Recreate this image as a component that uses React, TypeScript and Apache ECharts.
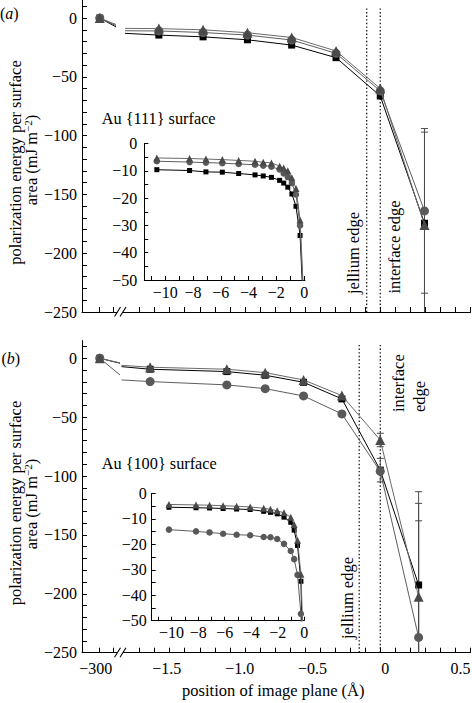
import React, { useEffect, useRef } from 'react';
import * as echarts from 'echarts';

const FONT = '"Liberation Serif", "Times New Roman", Times, serif';
const MINUS = '\u2212';

// ---------------- Panel (a): Au {111} ----------------
// image-plane positions (Å) and polarization energies (mJ m^-2)
const xA = [-10.598, -8.243, -7.066, -5.888, -4.71, -3.533, -2.944, -2.355, -1.766, -1.472, -1.178, -0.883, -0.589, -0.294, 0, 0.294];
const sqA = [-9.6, -9.9, -10.4, -10.5, -11.0, -11.5, -11.9, -12.4, -13.5, -14.5, -16.0, -18.5, -23.0, -33.7, -66.3, -174.5];
const cirA = [-6.5, -6.8, -7.0, -7.2, -7.5, -7.8, -8.1, -8.5, -9.5, -11.0, -12.3, -14.5, -18.7, -30.0, -62.0, -164.0];
const triA = [-5.3, -5.5, -5.7, -5.9, -6.2, -6.5, -6.9, -7.1, -8.3, -9.0, -10.0, -12.5, -16.5, -28.0, -60.0, -176.0];
const farA = { sq: 0, cir: 0, tri: 0 }; // values at −300 Å
const stubA = { sq: [-7.5, -13.0], cir: [-6.5, -10.8], tri: [-5.5, -8.8] }; // line ends either side of the axis break
const errA = [
  [0.294, -234, -94],
  [0.294, -252, -97],
];
const edgesA = { jellium: -0.09, interface: 0, top: 8.2 };

// ---------------- Panel (b): Au {100} ----------------
const xB = [-10.2, -8.16, -7.14, -6.12, -5.1, -4.08, -3.06, -2.55, -2.04, -1.53, -1.02, -0.765, -0.51, -0.255, 0, 0.255];
const sqB = [-5.4, -5.6, -5.7, -5.9, -6.1, -6.3, -7.0, -7.4, -8.0, -9.3, -11.3, -14.4, -20.4, -34.5, -95.0, -192.5];
const cirB = [-14.2, -14.9, -15.3, -15.8, -16.2, -16.4, -17.1, -17.2, -17.9, -19.8, -22.6, -25.8, -32.0, -47.3, -96.0, -237.0];
const triB = [-4.3, -4.5, -4.6, -4.8, -5.0, -5.3, -5.8, -6.2, -6.8, -7.6, -9.3, -12.2, -18.4, -31.7, -69.4, -202.4];
const farB = { sq: 0, cir: 0, tri: 0 };
const stubB = { sq: [-4.2, -7.1], cir: [-14.2, -18.4], tri: [-4.0, -6.0] };
const errB = [
  [0, -75.1, -63.7],
  [0, -105, -85],
  [0.255, -272, -113.3],
  [0.255, -281.6, -123.2],
  [0.255, -336, -138],
];
const edgesB = { jellium: -0.14, interface: 0, top: 11.3 };

// ---------------- tick labels ----------------
const FAR_X = -1.865; // axis position used for the −300 Å point (broken axis)
const X_LABEL_VALUES = [FAR_X, -1.5, -1.0, -0.5, 0, 0.5];
const X_LABEL_TEXT = [MINUS + '300', MINUS + '1.5', MINUS + '1.0', MINUS + '0.5', '0', '0.5'];
const X_LABEL_SHIFT = [-4, 12, 10, 7.5, 5, 5];
const Y_LABELS = [-250, -200, -150, -100, -50, 0];
const INSET_X_LABELS = [-10, -8, -6, -4, -2, 0];
const INSET_Y_LABELS = [-50, -40, -30, -20, -10, 0];

const MAIN_START = 9; // first point right of the axis break

const range = (a: number, b: number, s: number) => {
  const out: number[] = [];
  for (let v = a; v <= b + 1e-9; v += s) out.push(Math.round(v * 1000) / 1000);
  return out;
};
const fmt = (v: number) => (Math.abs(v) < 1e-9 ? '0' : (v < 0 ? MINUS : '') + String(Math.abs(v)));

const STY: Record<string, { color: string; line: string; symbol: string; size: number; isize: number; z: number }> = {
  sq: { color: '#000000', line: '#000000', symbol: 'rect', size: 7, isize: 5, z: 3 },
  cir: { color: '#595959', line: '#5e5e5e', symbol: 'circle', size: 9, isize: 6.5, z: 4 },
  tri: { color: '#4a4a4a', line: '#6a6a6a', symbol: 'triangle', size: 10, isize: 7, z: 5 },
};

function mainSeries(g: number, xs: number[], ys: number[], far: number, stub: number[], brk: number[], key: string) {
  const s = STY[key];
  const base: any = {
    type: 'line',
    xAxisIndex: g,
    yAxisIndex: g,
    symbol: s.symbol,
    symbolSize: s.size,
    showSymbol: true,
    lineStyle: { color: s.line, width: 1 },
    itemStyle: { color: s.color },
    z: s.z,
    silent: true,
    clip: true,
  };
  return [
    { ...base, data: [[FAR_X, far], { value: [brk[0], stub[0]], symbol: 'none' }] },
    {
      ...base,
      data: [
        { value: [brk[1], stub[1]], symbol: 'none' },
        ...xs.slice(MAIN_START).map((x, i) => [x, ys[MAIN_START + i]]),
      ],
    },
  ];
}

function insetSeries(g: number, xs: number[], ys: number[], key: string) {
  const s = STY[key];
  return {
    type: 'line',
    xAxisIndex: g,
    yAxisIndex: g,
    symbol: s.symbol,
    symbolSize: s.isize,
    showSymbol: true,
    lineStyle: { color: s.line, width: 1 },
    itemStyle: { color: s.color },
    z: s.z,
    silent: true,
    clip: true,
    data: xs.map((x, i) => [x, ys[i]]),
  };
}

function errSeries(g: number, data: number[][]) {
  return {
    type: 'custom',
    xAxisIndex: g,
    yAxisIndex: g,
    clip: true,
    silent: true,
    z: 2,
    encode: { x: 0, y: [1, 2] },
    data,
    renderItem: (_p: any, api: any) => {
      const x = api.value(0);
      const lo = api.coord([x, api.value(1)]);
      const hi = api.coord([x, api.value(2)]);
      const w = 3.5;
      const style = { stroke: '#4a4a4a', lineWidth: 1, fill: 'none' };
      return {
        type: 'group',
        children: [
          { type: 'line', shape: { x1: hi[0], y1: hi[1], x2: lo[0], y2: lo[1] }, style },
          { type: 'line', shape: { x1: hi[0] - w, y1: hi[1], x2: hi[0] + w, y2: hi[1] }, style },
          { type: 'line', shape: { x1: lo[0] - w, y1: lo[1], x2: lo[0] + w, y2: lo[1] }, style },
        ],
      };
    },
  };
}

function edgeSeries(g: number, x: number, top: number) {
  return {
    type: 'line',
    xAxisIndex: g,
    yAxisIndex: g,
    symbol: 'none',
    silent: true,
    z: 1,
    lineStyle: { color: '#000', width: 1.2, type: [1.4, 2.2] },
    data: [
      [x, top],
      [x, -250],
    ],
  };
}

const axisLineStyle = { color: '#000', width: 1 };
const labelBase = { color: '#000', fontFamily: FONT, fontSize: 16 };

function mainX(g: number, showLabels: boolean) {
  const rich: any = {};
  X_LABEL_SHIFT.forEach((d, i) => {
    rich['o' + i] = { ...labelBase, padding: d >= 0 ? [0, 0, 0, 2 * d] : [0, -2 * d, 0, 0] };
  });
  return {
    type: 'value',
    gridIndex: g,
    min: -1.983,
    max: 0.6,
    axisLine: { show: true, onZero: false, lineStyle: axisLineStyle },
    axisTick: { show: true, inside: true, length: 5, lineStyle: axisLineStyle, customValues: [FAR_X, -1.775, ...range(-1.6, 0.6, 0.1)] },
    axisLabel: {
      show: showLabels,
      ...labelBase,
      margin: 8,
      hideOverlap: false,
      customValues: X_LABEL_VALUES,
      formatter: (v: number) => {
        let idx = 0;
        let best = Infinity;
        X_LABEL_VALUES.forEach((lv, i) => {
          const d = Math.abs(lv - v);
          if (d < best) {
            best = d;
            idx = i;
          }
        });
        return '{o' + idx + '|' + X_LABEL_TEXT[idx] + '}';
      },
      rich,
    },
    splitLine: { show: false },
  };
}

function mainY(g: number) {
  return {
    type: 'value',
    gridIndex: g,
    min: -250,
    max: 15,
    axisLine: { show: true, onZero: false, lineStyle: axisLineStyle },
    axisTick: { show: true, inside: true, length: 5, lineStyle: axisLineStyle, customValues: range(-250, 10, 10) },
    axisLabel: { ...labelBase, margin: 5, customValues: Y_LABELS, formatter: (v: number) => fmt(v) },
    splitLine: { show: false },
  };
}

function insetX(g: number, min: number, max: number) {
  return {
    type: 'value',
    gridIndex: g,
    min,
    max,
    axisLine: { show: true, onZero: false, lineStyle: axisLineStyle },
    axisTick: { show: true, inside: true, length: 4, lineStyle: axisLineStyle, customValues: range(-11, 0, 1) },
    axisLabel: {
      ...labelBase,
      margin: 4,
      hideOverlap: false,
      showMinLabel: true,
      showMaxLabel: true,
      customValues: INSET_X_LABELS,
      formatter: (v: number) => fmt(v),
    },
    splitLine: { show: false },
  };
}

function insetY(g: number, margin: number) {
  return {
    type: 'value',
    gridIndex: g,
    min: -50,
    max: 0,
    axisLine: { show: true, onZero: false, lineStyle: axisLineStyle },
    axisTick: { show: true, inside: true, length: 4, lineStyle: axisLineStyle, customValues: range(-50, 0, 5) },
    axisLabel: { ...labelBase, margin, customValues: INSET_Y_LABELS, formatter: (v: number) => fmt(v) },
    splitLine: { show: false },
  };
}

function vText(x: number, y: number, text: string, align: string = 'center', rich?: any) {
  return {
    type: 'text',
    x,
    y,
    rotation: Math.PI / 2,
    silent: true,
    z: 50,
    style: {
      text,
      fill: '#000',
      fontFamily: FONT,
      fontSize: 16.5,
      align,
      verticalAlign: 'middle',
      ...(rich ? { rich } : {}),
    },
  };
}

function hText(x: number, y: number, text: string, align: string, size: number, rich?: any) {
  return {
    type: 'text',
    x,
    y,
    silent: true,
    z: 50,
    style: { text, fill: '#000', fontFamily: FONT, fontSize: size, align, verticalAlign: 'middle', ...(rich ? { rich } : {}) },
  };
}

function breakMarks(axisY: number) {
  const st = { stroke: '#000', lineWidth: 1.1 };
  return [
    { type: 'rect', z: 60, silent: true, shape: { x: 117.5, y: axisY - 1.5, width: 5.5, height: 3 }, style: { fill: '#fff' } },
    { type: 'line', z: 61, silent: true, shape: { x1: 114.5, y1: axisY + 4.5, x2: 120.5, y2: axisY - 5 }, style: st },
    { type: 'line', z: 61, silent: true, shape: { x1: 120, y1: axisY + 4.5, x2: 126, y2: axisY - 5 }, style: st },
  ];
}

const supRich = {
  sup: { fontFamily: FONT, fontSize: 11, verticalAlign: 'top', lineHeight: 11, fill: '#000' },
};

export default function App() {
  const ref = useRef<HTMLDivElement>(null);

  useEffect(() => {
    document.body.style.margin = '0';
    if (!ref.current) return;
    const chart = echarts.init(ref.current, undefined, { renderer: 'svg' });

    const series: any[] = [
      // panel (a) main
      edgeSeries(0, edgesA.jellium, edgesA.top),
      edgeSeries(0, edgesA.interface, edgesA.top),
      errSeries(0, errA),
      ...mainSeries(0, xA, sqA, farA.sq, stubA.sq, [-1.757, -1.697], 'sq'),
      ...mainSeries(0, xA, cirA, farA.cir, stubA.cir, [-1.757, -1.697], 'cir'),
      ...mainSeries(0, xA, triA, farA.tri, stubA.tri, [-1.757, -1.697], 'tri'),
      // panel (a) inset
      insetSeries(1, xA, sqA, 'sq'),
      insetSeries(1, xA, cirA, 'cir'),
      insetSeries(1, xA, triA, 'tri'),
      // panel (b) main
      edgeSeries(2, edgesB.jellium, edgesB.top),
      edgeSeries(2, edgesB.interface, edgesB.top),
      errSeries(2, errB),
      ...mainSeries(2, xB, cirB, farB.cir, stubB.cir, [-1.73, -1.72], 'cir'),
      ...mainSeries(2, xB, triB, farB.tri, stubB.tri, [-1.73, -1.72], 'tri'),
      ...mainSeries(2, xB, sqB, farB.sq, stubB.sq, [-1.73, -1.72], 'sq'),
      // panel (b) inset
      insetSeries(3, xB, cirB, 'cir'),
      insetSeries(3, xB, triB, 'tri'),
      insetSeries(3, xB, sqB, 'sq'),
    ];

    const italic = { i: { fontFamily: FONT, fontSize: 16, fontStyle: 'italic', fill: '#000' } };
    const graphic: any[] = [
      hText(0, 13.5, '({i|a})', 'left', 16, italic),
      hText(1.5, 358.3, '({i|b})', 'left', 16, italic),
      hText(101.7, 118, 'Au {111} surface', 'left', 16.3),
      hText(101.7, 463, 'Au {100} surface', 'left', 16.3),
      vText(15, 162.5, 'polarization energy per surface'),
      vText(31, 160, 'area (mJ m{sup|' + MINUS + '2})', 'center', supRich),
      vText(15, 503, 'polarization energy per surface'),
      vText(31, 504, 'area (mJ m{sup|' + MINUS + '2})', 'center', supRich),
      vText(353, 253, 'jellium edge'),
      vText(394, 247, 'interface edge'),
      vText(347, 598, 'jellium edge'),
      vText(398, 412, 'interface', 'left'),
      vText(419, 412, 'edge', 'left'),
      hText(273.3, 690, 'position of image plane (\u00C5)', 'center', 16.5),
      ...breakMarks(312),
      ...breakMarks(652.7),
    ];

    chart.setOption({
      animation: false,
      backgroundColor: '#ffffff',
      textStyle: { fontFamily: FONT, color: '#000' },
      grid: [
        { left: 82, top: 0.4, width: 388.5, height: 311.6, outerBoundsMode: 'none', containLabel: false },
        { left: 144.3, top: 143.5, width: 160.7, height: 136.5, outerBoundsMode: 'none', containLabel: false },
        { left: 82, top: 340.6, width: 388.5, height: 312.1, outerBoundsMode: 'none', containLabel: false },
        { left: 151.7, top: 493.5, width: 152.6, height: 127.2, outerBoundsMode: 'none', containLabel: false },
      ],
      xAxis: [mainX(0, false), insetX(1, -11.5, 0.06), mainX(2, true), insetX(3, -11.5, 0)],
      yAxis: [mainY(0), insetY(1, 7), mainY(2), insetY(3, 5)],
      series,
      graphic,
    } as any);

    return () => {
      chart.dispose();
    };
  }, []);

  return <div ref={ref} style={{ width: 472, height: 703 }} />;
}
